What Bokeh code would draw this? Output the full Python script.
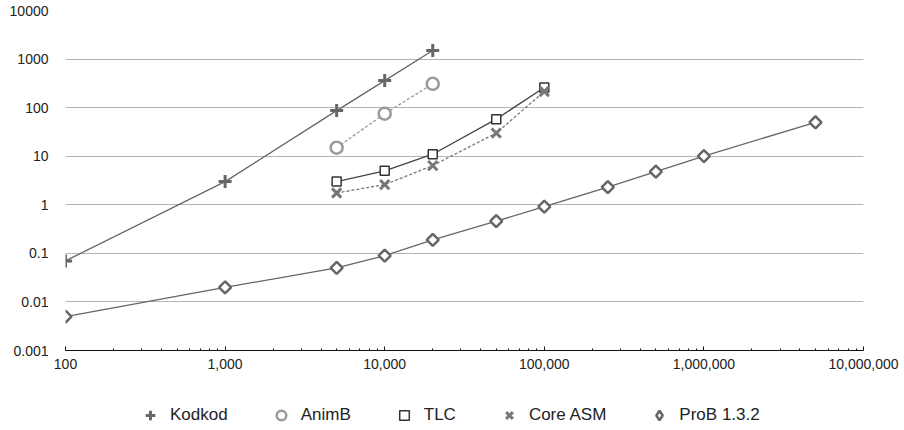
import math
from bokeh.plotting import figure
from bokeh.layouts import column
from bokeh.models import FixedTicker, Legend, LegendItem, Range1d
from bokeh.embed import file_html
from bokeh.resources import INLINE

# ---- data ----
kodkod_x = [100, 1000, 5000, 10000, 20000]
kodkod_y = [0.07, 3, 87, 360, 1500]
animb_x = [5000, 10000, 20000]
animb_y = [15, 75, 310]
tlc_x = [5000, 10000, 20000, 50000, 100000]
tlc_y = [3.0, 5.0, 11, 58, 260]
coreasm_x = [5000, 10000, 20000, 50000, 100000]
coreasm_y = [1.75, 2.6, 6.4, 30, 215]
prob_x = [100, 1000, 5000, 10000, 20000, 50000, 100000, 250000, 500000, 1000000, 5000000]
prob_y = [0.005, 0.02, 0.05, 0.09, 0.19, 0.46, 0.92, 2.3, 4.8, 10, 50]

series_names = ["Kodkod", "AnimB", "TLC", "Core ASM", "ProB 1.3.2"]

x_ticks = [100, 1000, 10000, 100000, 1000000, 10000000]
x_tick_labels = ["100", "1,000", "10,000", "100,000", "1,000,000", "10,000,000"]
y_ticks = [0.001, 0.01, 0.1, 1, 10, 100, 1000, 10000]
y_tick_labels = ["0.001", "0.01", "0.1", "1", "10", "100", "1000", "10000"]

FONT = "Liberation Sans"
W = 900

styles = [
    dict(marker="cross", lmarker="cross", size=13, mcolor="#666666", fill=None, mw=3,
         lcolor="#666666", dash="solid", angle=0),
    dict(marker="circle", lmarker="circle", size=12, mcolor="#9a9a9a", fill="white", mw=2.5,
         lcolor="#999999", dash="3 2", angle=0),
    dict(marker="square", lmarker="square", size=9, mcolor="#333333", fill="white", mw=1.5,
         lcolor="#444444", dash="solid", angle=0),
    dict(marker="x", lmarker="x", size=13, mcolor="#777777", fill=None, mw=3,
         lcolor="#777777", dash="3 2", angle=0),
    dict(marker="square", lmarker="diamond", size=8.5, mcolor="#666666", fill="white", mw=2.5,
         lcolor="#666666", dash="solid", angle=math.pi / 4),
]
series = [(kodkod_x, kodkod_y), (animb_x, animb_y), (tlc_x, tlc_y),
          (coreasm_x, coreasm_y), (prob_x, prob_y)]

p = figure(width=W, height=374, x_axis_type="log", y_axis_type="log",
           x_range=Range1d(100, 1e7), y_range=Range1d(0.001, 10000),
           output_backend="svg", toolbar_location=None,
           min_border_left=65, min_border_right=W - 65 - 798, min_border_top=10, min_border_bottom=24)
p.outline_line_color = None

x_minor = [m * 10 ** e for e in range(2, 7) for m in range(2, 10)]
p.xaxis.ticker = FixedTicker(ticks=x_ticks, minor_ticks=x_minor)
p.yaxis.ticker = FixedTicker(ticks=y_ticks, minor_ticks=[])
p.xaxis.major_label_overrides = {float(t): l for t, l in zip(x_ticks, x_tick_labels)}
p.yaxis.major_label_overrides = {float(t): l for t, l in zip(y_ticks, y_tick_labels)}

p.xgrid.grid_line_color = None
p.ygrid.grid_line_color = "#b4b4b4"
p.ygrid.grid_line_width = 1

xa = p.xaxis[0]
xa.axis_line_color = "#111111"
xa.axis_line_width = 1.2
xa.major_tick_in = 4
xa.major_tick_out = 0
xa.minor_tick_in = 2
xa.minor_tick_out = 0
xa.major_tick_line_color = "#111111"
xa.minor_tick_line_color = "#111111"
xa.major_label_standoff = 8
xa.major_label_text_font = FONT
xa.major_label_text_font_size = "14px"
xa.major_label_text_color = "#222222"

ya = p.yaxis[0]
ya.axis_line_color = None
ya.major_tick_line_color = None
ya.minor_tick_line_color = None
ya.major_tick_in = 0
ya.major_tick_out = 0
ya.major_label_standoff = 17
ya.major_label_text_font = FONT
ya.major_label_text_font_size = "14px"
ya.major_label_text_color = "#222222"

for (xs, ys), st in zip(series, styles):
    p.line(xs, ys, line_color=st["lcolor"], line_width=1.3, line_dash=st["dash"])
    p.scatter(xs, ys, marker=st["marker"], size=st["size"], angle=st["angle"],
              line_color=st["mcolor"], fill_color=st["fill"], line_width=st["mw"])

# ---- legend strip below the chart ----
# (the series are re-plotted here far outside this strip's visible range, only so
#  that the legend can draw their markers)
lg = figure(width=W, height=53, x_range=Range1d(0, 1), y_range=Range1d(0, 1),
            x_axis_location=None, y_axis_location=None,
            output_backend="svg", toolbar_location=None,
            min_border_left=0, min_border_right=0, min_border_top=0, min_border_bottom=0)
lg.grid.visible = False
lg.outline_line_color = None

items = []
for name, (xs, ys), st in zip(series_names, series, styles):
    r = lg.scatter(xs, ys, marker=st["lmarker"], size=st["size"],
                   line_color=st["mcolor"], fill_color=st["fill"], line_width=st["mw"])
    items.append(LegendItem(label=name, renderers=[r]))

legend = Legend(items=items, orientation="horizontal", location=(73, 0),
                border_line_color=None, background_fill_alpha=0,
                label_text_font=FONT, label_text_font_size="17px",
                label_text_color="#222222", glyph_width=24, glyph_height=24,
                label_height=16, label_standoff=8, spacing=41, padding=0, margin=0)
lg.add_layout(legend, "center")

layout = column(p, lg, spacing=0)
open("out.html", "w").write(file_html(layout, INLINE))
